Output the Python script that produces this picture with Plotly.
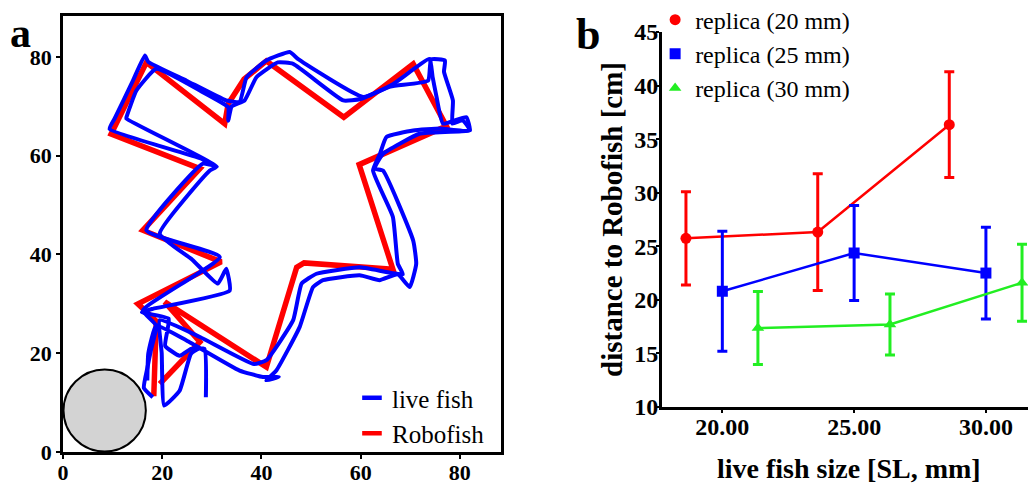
import plotly.graph_objects as go

# ---------------- Panel a: trajectories ----------------
robo_x = [18.3, 18.8, 15.1, 31.9, 16.1, 27.6, 9.7, 16.8, 32.6, 33.3, 36.5, 41.0, 56.6, 70.6, 77.3, 59.7, 66.5, 48.6, 47.1, 41.0, 20.5, 27.6, 19.5]
robo_y = [11.3, 26.5, 30.0, 38.5, 44.9, 57.4, 64.4, 78.9, 66.5, 70.5, 75.5, 79.2, 67.8, 78.6, 66.0, 58.2, 37.0, 38.3, 37.4, 17.2, 30.4, 22.3, 13.8]

fishA_x = [18.1, 16.3, 17.0, 17.7, 18.8, 16.1, 31.6, 16.8, 28.2, 30.6, 27.6, 9.4, 10.4, 14.1, 16.5, 17.2, 24.9, 32.9, 35.6, 37.0, 41.0, 45.7, 47.5, 60.5, 66.5, 73.9, 74.5, 75.3, 76.6, 81.3, 82.0, 76.0, 70.6, 65.2, 63.9, 62.5, 66.5, 67.5, 68.5, 59.8, 51.1, 48.1, 46.4, 41.0, 38.5, 27.6, 19.5, 19.9, 20.4, 23.5, 25.8, 27.8]
fishA_y = [11.1, 13.0, 17.0, 20.5, 25.6, 28.7, 39.5, 44.9, 58.4, 58.0, 59.5, 65.4, 67.5, 75.2, 80.3, 79.0, 75.2, 71.2, 70.9, 75.9, 79.3, 81.0, 79.5, 71.9, 74.5, 79.6, 76.0, 71.9, 66.5, 67.8, 65.1, 65.5, 65.1, 63.8, 60.4, 57.0, 47.6, 38.1, 36.0, 37.4, 36.1, 34.1, 26.7, 18.6, 17.8, 23.3, 26.7, 20.0, 9.4, 12.4, 19.9, 21.2]

fishB_x = [28.8, 28.5, 25.8, 23.5, 20.6, 21.3, 15.9, 18.1, 33.6, 32.9, 31.2, 26.0, 19.5, 29.6, 31.0, 12.8, 12.8, 14.8, 18.8, 27.6, 33.3, 33.3, 34.0, 36.6, 39.0, 43.3, 46.4, 56.5, 60.0, 66.0, 73.6, 74.2, 77.0, 76.8, 78.6, 78.5, 80.5, 82.0, 72.0, 64.5, 62.8, 64.5, 70.6, 71.2, 69.9, 67.5, 63.8, 59.8, 52.4, 50.4, 47.7, 43.0, 41.0, 43.5, 40.3, 35.6, 24.9, 18.8, 17.2, 17.0]
fishB_y = [11.1, 20.9, 20.9, 19.5, 21.5, 27.0, 28.3, 29.0, 32.7, 37.1, 34.1, 39.0, 44.2, 57.0, 57.8, 67.5, 67.8, 73.2, 77.6, 73.2, 69.8, 67.1, 70.0, 71.2, 75.9, 78.9, 78.6, 71.2, 71.5, 74.0, 75.2, 79.5, 79.3, 77.0, 71.2, 66.5, 67.2, 65.2, 64.5, 60.4, 57.4, 57.0, 42.8, 38.1, 33.4, 36.0, 34.8, 35.8, 34.8, 33.4, 25.3, 16.5, 14.5, 15.2, 15.2, 16.5, 22.6, 25.6, 20.0, 14.5]

home_center = (8.4, 8.4)
home_radius = 8.3

# ---------------- Panel b: distances ----------------
r20_x = [18.62, 23.62, 28.61]
r20_y = [25.74, 26.33, 36.35]
r20_err = [4.35, 5.45, 4.93]

r25_x = [20.0, 25.0, 30.0]
r25_y = [20.8, 24.37, 22.5]
r25_err = [5.6, 4.43, 4.28]

r30_x = [21.35, 26.36, 31.37]
r30_y = [17.37, 17.7, 21.6]
r30_err = [3.4, 2.85, 3.6]

a_ticks = [0, 20, 40, 60, 80]
b_xticks = [20, 25, 30]
b_yticks = [10, 15, 20, 25, 30, 35, 40, 45]

SERIF = "Liberation Serif"
RED = "#ff0000"
BLUE = "#0000ff"
GREEN = "#22ee22"

fig = go.Figure()

fig.add_trace(go.Scatter(x=robo_x, y=robo_y, mode="lines", line=dict(color=RED, width=5.5),
                         showlegend=False, xaxis="x", yaxis="y"))
fig.add_trace(go.Scatter(x=fishA_x, y=fishA_y, mode="lines",
                         line=dict(color=BLUE, width=4, shape="spline", smoothing=0.4),
                         showlegend=False, xaxis="x", yaxis="y"))
fig.add_trace(go.Scatter(x=fishB_x, y=fishB_y, mode="lines",
                         line=dict(color=BLUE, width=4, shape="spline", smoothing=0.4),
                         showlegend=False, xaxis="x", yaxis="y"))
# legend entries panel a
fig.add_trace(go.Scatter(x=[None], y=[None], mode="markers", name="live fish",
                         marker=dict(symbol="line-ew", size=14, line=dict(color=BLUE, width=4.5)),
                         legend="legend", xaxis="x", yaxis="y"))
fig.add_trace(go.Scatter(x=[None], y=[None], mode="markers", name="Robofish",
                         marker=dict(symbol="line-ew", size=14, line=dict(color=RED, width=4.5)),
                         legend="legend", xaxis="x", yaxis="y"))

# panel b
for xs, ys, es, col, sym in [
    (r20_x, r20_y, r20_err, RED, "circle"),
    (r25_x, r25_y, r25_err, BLUE, "square"),
    (r30_x, r30_y, r30_err, GREEN, "triangle-up"),
]:
    fig.add_trace(go.Scatter(x=xs, y=ys, mode="lines+markers",
                             line=dict(color=col, width=2.5),
                             marker=dict(symbol=sym, size=11, color=col),
                             error_y=dict(type="data", array=es, color=col, thickness=3, width=5),
                             showlegend=False, xaxis="x2", yaxis="y2"))
for col, sym, nm in [(RED, "circle", "replica (20 mm)"), (BLUE, "square", "replica (25 mm)"),
                     (GREEN, "triangle-up", "replica (30 mm)")]:
    fig.add_trace(go.Scatter(x=[None], y=[None], mode="markers", name=nm,
                             marker=dict(symbol=sym, size=11, color=col),
                             legend="legend2", xaxis="x2", yaxis="y2"))

fig.add_shape(type="circle", xref="x", yref="y",
              x0=home_center[0] - home_radius, x1=home_center[0] + home_radius,
              y0=home_center[1] - home_radius, y1=home_center[1] + home_radius,
              fillcolor="#d3d3d3", line=dict(color="black", width=2), layer="below")

tickfont_a = dict(family=SERIF, size=22, color="black", weight="bold")
tickfont_b = dict(family=SERIF, size=24, color="black", weight="bold")

common_a = dict(showline=True, linecolor="black", linewidth=2.5, mirror=True, ticks="outside",
                ticklen=4, tickwidth=2, tickcolor="black", showgrid=False, zeroline=False,
                tickvals=a_ticks, tickfont=tickfont_a, range=[0, 88.3])

W, H = 1028, 476

fig.update_layout(
    width=W, height=H,
    margin=dict(l=0, r=0, t=0, b=0, autoexpand=False),
    paper_bgcolor="white", plot_bgcolor="white",
    xaxis=dict(domain=[0.0535, 0.4796], anchor="y", ticklabelstandoff=-5, **common_a),
    yaxis=dict(domain=[0.0672, 0.9832], anchor="x", **common_a),
    xaxis2=dict(domain=[0.6359, 1.0], anchor="y2", range=[17.7, 31.9], tickvals=b_xticks,
                tickformat=".2f", showline=True, linecolor="black", linewidth=2.5,
                ticks="outside", ticklen=3, tickwidth=2, tickcolor="black",
                ticklabelstandoff=-7,
                showgrid=False, zeroline=False, tickfont=tickfont_b,
                title=dict(text="live fish size [SL, mm]", standoff=22,
                           font=dict(family=SERIF, size=28, color="black", weight="bold"))),
    yaxis2=dict(domain=[0.1618, 0.9496], anchor="x2", range=[10, 45], tickvals=b_yticks,
                showline=True, linecolor="black", linewidth=2.5,
                ticks="outside", ticklen=3, tickwidth=2, tickcolor="black",
                ticklabelstandoff=-7,
                showgrid=False, zeroline=False, tickfont=tickfont_b,
                title=dict(text="distance to Robofish [cm]", standoff=4,
                           font=dict(family=SERIF, size=29, color="black", weight="bold"))),
    legend=dict(x=0.3346, y=0.0588, xanchor="left", yanchor="bottom", bgcolor="rgba(0,0,0,0)",
                font=dict(family=SERIF, size=25, color="black"), itemwidth=30, tracegroupgap=0),
    legend2=dict(x=0.6295, y=1.022, xanchor="left", yanchor="top", bgcolor="rgba(0,0,0,0)",
                 font=dict(family=SERIF, size=24, color="black"), itemwidth=30, tracegroupgap=0),
    annotations=[
        dict(text="a", x=0.0, y=1.0, xref="paper", yref="paper", xanchor="left", yanchor="top",
             showarrow=False, font=dict(family=SERIF, size=42, color="black", weight="bold")),
        dict(text="b", x=0.5506, y=1.0, xref="paper", yref="paper", xanchor="left", yanchor="top",
             showarrow=False, font=dict(family=SERIF, size=44, color="black", weight="bold")),
    ],
)

fig.write_html("out.html")
